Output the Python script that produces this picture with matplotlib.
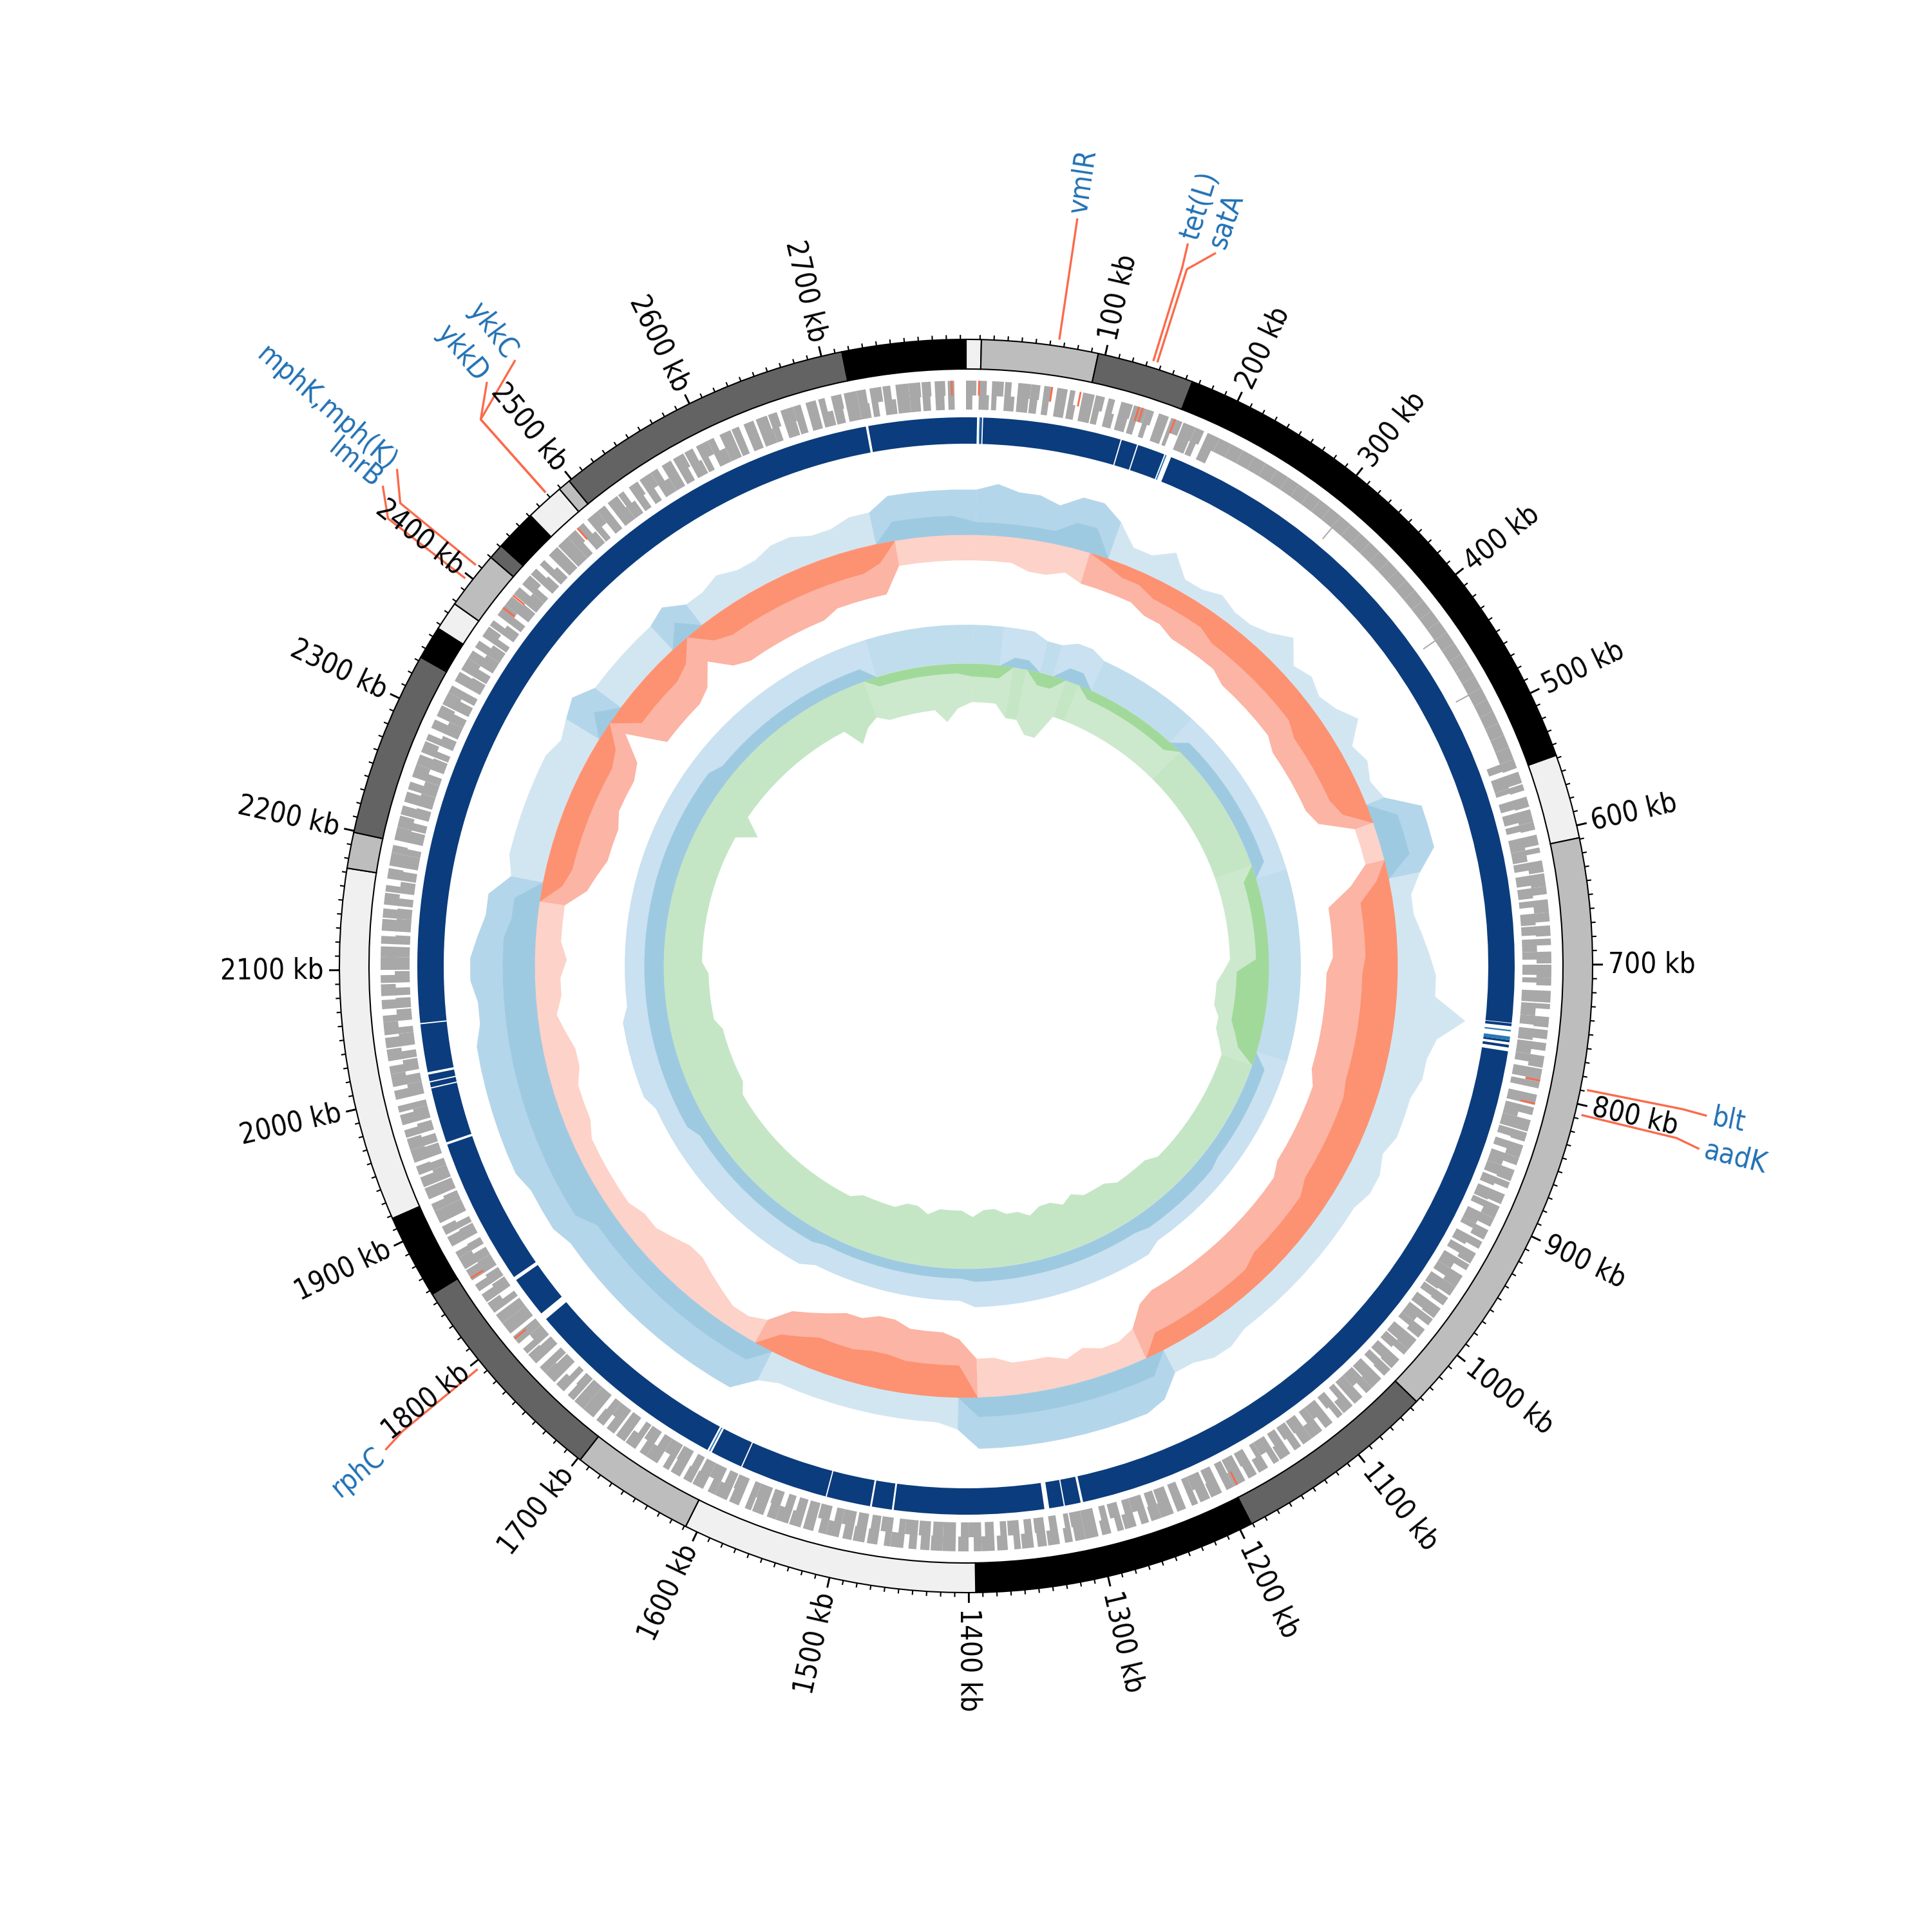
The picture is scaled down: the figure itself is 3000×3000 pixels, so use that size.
import numpy as np
import matplotlib
matplotlib.use("Agg")
import matplotlib.pyplot as plt
from matplotlib import font_manager

# ---------------- data ----------------
GENOME_KB = 2804
CONTIG_BOUNDS_KB = [0, 11, 95, 165, 548, 609, 1044, 1191, 1395, 1609, 1698, 1857,
                    1918, 2173, 2199, 2333, 2357, 2378, 2420, 2431, 2461, 2489, 2498,
                    2715, 2804]
CONTIG_COLORS = ["#f0f0f0", "#bdbdbd", "#636363", "#000000"]

WINDOW_KB = 20
# GC content deviation ring (x10 px): solid band (signed: + above mean, - below mean)
GC_BAND = [2, 2, 2, 2, 2, 4, 4, -1,
           -2, -2, -3, -3, -3, -3, -4, -4, -4, -4, -4, -4, -4, -5, -5, -5, -5, -5, -4,
           4, 4, 4, -2,
           -5, -5, -5, -5, -5.5, -5.5, -5.5, -5.5, -5.5, -5.5, -5.5, -5, -5, -5, -5, -5, -5,
           -4, -4, -4, -4, -4, -3, -3, -3, -3, -3, -3, -3,
           3, 3, 3, 3, 3, 3, 3, 3, 3, 3,
           -5, -5, -5, -5, -5.5, -5.5, -5, -5, -5, -4, -3,
           3, 3, 3, 3, 3, 3, 3, 3, 3, 3, 3,
           5, 5, 5, 5, 5, 5, 5, 5, 5, 5, 5, 5, 5, 5, 5, 4, 4,
           -3, -4, -4, -4, -4, -4, -4, -4, -3,
           3,
           -4, -4, -4, -4, -3,
           3,
           -3, -4, -4, -4, -4, -4, -4, -4, -4, -4, -3,
           3, 3, 3, 3]
GC_POS_PEAK = [7, 8, 7, 7, 6, 8, 8, 6,
               3, 3, 5, 2, 2, 3, 2, 2, 3, 5, 2, 3, 2, 3, 5, 2, 3, 2, 3,
               8, 8, 8, 5,
               3, 3, 4, 5, 6, 6, 11, 7, 6, 6, 5, 5, 5, 4, 5, 5, 4, 4, 4, 4, 4, 4, 4, 4, 4, 5, 5, 4, 4,
               7, 8, 8, 8, 8, 8, 8, 8, 8, 8,
               5, 4, 4, 4, 4, 4, 4, 4, 4, 4, 5,
               8, 8, 8, 8, 8, 8, 8, 8, 8, 8, 8,
               9, 9, 9, 10, 10, 10, 10, 10, 10, 10, 9, 9, 10, 10, 9, 8, 8,
               5, 6, 6, 6, 6, 6, 6, 5, 6,
               7,
               5, 5, 5, 5, 5,
               6,
               4, 4, 5, 4, 4, 5, 5, 4, 4, 5, 5,
               7, 7, 7, 7]
GC_NEG_PEAK = [4, 4, 4, 5, 5, 4, 5, 5,
               5, 5, 6, 6, 7, 7, 7, 7, 8, 8, 8, 8, 8, 9, 9, 9, 9, 9, 8,
               3, 3, 3, 6,
               10, 10, 10, 10, 11, 11, 11, 11, 11, 11, 11, 10, 10, 10, 10, 10, 10,
               9, 9, 9, 9, 9, 9, 9, 9, 9, 9, 9, 8,
               5, 4, 4, 5, 4, 5, 5, 5, 6, 6,
               9, 10, 10, 10, 11, 11, 10, 10, 9, 8, 7,
               4, 3, 3, 4, 5, 6, 6, 5, 4, 4, 3,
               3, 3, 3, 3, 4, 4, 4, 5, 5, 4, 3, 4, 4, 5, 4, 4, 4,
               7, 8, 9, 9, 9, 8, 8, 8, 7,
               3,
               9, 9, 9, 9, 8,
               5,
               8, 9, 9, 9, 9, 9, 9, 8, 8, 8, 8,
               4, 4, 4, 4]
# GC skew ring (x10 px): solid band (signed: + positive skew, - negative skew)
SK_BAND = [-2, -2, -2, 1.5, 1.5, -2, -2,
           2, 2,
           -1.5, -1.5, -1.5, -1.5, -1.5, -1.5, -1.5, -1.5,
           2, 2, 2, 2, 2, 2, 2, 2, 2, 2, 2,
           -2, -2, -2, -2, -2, -2, -2,
           -5, -5, -5, -5, -5, -4, -3,
           2, 2, 2, 2, 2, 2, 2, 2,
           2.5, 2.5, 2.5, 2.5, 2.5, 2.5, 2.5,
           2, 2, 2, 2, 2, 2, 2, 2, 2, 2, 2, 2, 2,
           1.5, 1.5, 1.5, 1.5, 1.5, 1.5, 1.5, 1.5, 1.5, 1.5, 1.5,
           2, 2, 2, 2, 2, 2, 2, 2, 2, 2, 2, 2,
           3, 3, 3, 3, 3, 3, 3, 3, 3, 3, 3, 3,
           3, 3, 3, 3, 3, 3, 3, 3, 3, 3, 3, 3, 3, 3, 3,
           2, 2, 2, 2, 2, 2, 2, 2, 2, 2, 2, 2, 2,
           -1.5, -1.5, -1.5, -1.5, -1.5, -1.5, -1.5]
SK_POS_PEAK = [6, 6, 6, 6, 6, 5, 5,
               6, 6,
               5, 5, 5, 5, 5, 5, 5, 5,
               5, 5, 5, 5, 5, 5, 5, 5, 5, 5, 5,
               5, 5, 5, 5, 5, 5, 5,
               5, 5, 5, 5, 5, 5, 5,
               5, 5, 5, 5, 5, 5, 5, 5,
               5, 5, 5, 5, 5, 5, 5,
               6, 6, 6, 6, 6, 6, 6, 6, 6, 6, 6, 6, 6,
               5, 5, 5, 5, 5, 5, 5, 5, 5, 5, 5,
               6, 6, 6, 6, 6, 6, 6, 6, 6, 6, 6, 6,
               6, 6, 6, 7, 7, 7, 7, 7, 7, 6, 6, 6,
               6, 6, 6, 6, 6, 6, 6, 6, 6, 6, 6, 6, 6, 6, 6,
               6, 6, 6, 6, 6, 6, 6, 6, 6, 6, 6, 6, 6,
               6, 6, 6, 6, 6, 6, 6]
SK_NEG_PEAK = [6, 6, 6, 8, 8, 10, 10,
               6, 6,
               6, 6, 6, 6, 6, 6, 6, 6,
               6, 6, 6, 6, 6, 6, 6, 6, 6, 6, 6,
               6, 6, 6, 6, 6, 6, 6,
               7, 8, 8, 8, 7, 7, 6,
               5, 5, 5, 5, 5, 5, 5, 5,
               5, 5, 5, 6, 6, 6, 6,
               7, 7, 7, 8, 7, 8, 8, 7, 8, 8, 9, 9, 8,
               9, 9, 9, 8, 9, 9, 8, 8, 8, 8, 7,
               7, 7, 7, 7, 7, 7, 7, 7, 7, 7, 7, 7,
               7, 8, 8, 8, 8, 8, 8, 7, 7, 7, 7, 7,
               6, 6, 6, 6, 6, 6, 6, 6, 6, 6, 6, 6, 9, 6, 6,
               6, 6, 6, 6, 6, 6, 6, 6, 6, 6, 9, 7, 6,
               7, 7, 7, 7, 7, 9, 7]

# gene coverage per 10 kb window (outer row / inner row); digit = tenths, 'a' = full
GENE_WINDOW_KB = 10
GENE_OUT = ("8695a76849" "759a689a7a" + "a" * 34 +
            "7958a6849a" "6a7859a694" "8769a58697" "a6958a7869" "5a87968a59" "7a68957a86"
            "9587a69857" "a86957a869" "7958a68a97" "6a5897a689" "a7958a6978" "5a69877a96"
            "8a6957a897" "69a587a698" "7a96857a69" "8a5796a869" "7958a6a978" "6a89579a68"
            "a7695a8796" "59a86a7958" "a6897a5968" "97a6858a79" "6a9785")
GENE_IN = ("5848965869" "5785483958" + "0000000000" "0100000000" "0001000010" "0000" +
           "6a4785a968" "8597a6849a" "79a6858a96" "6a8795a486" "a7968a5978" "69a857a698"
           "7a48968a57" "97a685a946" "86957a6a89" "a5978a6987" "68a597a869" "a7958a6a97"
           "5968a7a859" "8a7695a89a" "6978a5a796" "a59869a87a" "8697a5968a" "a6958a7869"
           "7a95869a58" "89a6957a86" "6a8795a968" "a596897a85" "9a8675")
GENE_RED_KB = [2793, 10, 66, 88, 134, 137, 163, 789, 807, 1187, 1795, 1852, 2397, 2409, 2480]

# alignment ring: gaps and thin stripes (kb)
BLUE_GAPS = [(2722, 2724), (9, 11), (13, 14), (127.5, 128.5), (141.5, 142.5), (165, 171),
             (747.3, 770.7), (1306, 1308), (1321, 1322), (1334, 1338), (1461, 1462.5),
             (1479, 1480.5), (1516.5, 1517.5), (1589.5, 1590.5), (1617, 1621), (1791, 1797),
             (1831, 1834), (1955, 1957), (2002.5, 2003.5), (2007.5, 2008.5), (2014, 2016),
             (2055.5, 2056.5)]
BLUE_DARK_STRIPES = [(747.8, 750.1), (761.5, 763.3), (765.4, 767.6)]
BLUE_LIGHT_STRIPES = [(11, 12), (166, 167), (753.2, 754.4), (758.6, 761.5), (1618.5, 1619.5)]

TICK_MINOR_KB = list(range(10, 2801, 10))
TICK_LABEL_KB = list(range(100, 2701, 100))

GENE_LABELS = ["vmlR", "tet(L)", "satA", "blt", "aadK", "rphC", "ykkC", "ykkD",
               "mphK,mph(K)", "lmrB"]
GENE_LABEL_KB = [66, 134, 137, 789, 807, 1795, 2480, 2480, 2409, 2397]

# ---------------- layout ----------------
LABEL_TEXT_KB = [66, 133, 150, 790, 810, 1793, 2518, 2497, 2423, 2410]
R_CONTIG = (927, 973)
R_GENE_OUT = (886, 909)
R_GENE_IN = (864, 887)
R_BLUE = (811, 852)
GC_BASE, GC_SCALE = 670, 10.0
SK_BASE, SK_SCALE = 470, 10.0

plt.rcParams["font.family"] = ["DejaVu Sans"]
# use the condensed DejaVu face when it is installed
_condensed = any("Condensed" in f.name or "condensed" == f.stretch
                 for f in font_manager.fontManager.ttflist if f.name.startswith("DejaVu Sans")
                 and "Mono" not in f.name)
TXT_KW = dict(fontstretch="condensed", fontsize=10.5) if _condensed else dict(fontsize=9.5)


def th(kb):
    return np.deg2rad(np.asarray(kb, dtype=float) / GENOME_KB * 360.0)


fig = plt.figure(figsize=(10, 10), dpi=300)
ax = fig.add_axes([0, 0, 1, 1], projection="polar")
ax.set_theta_zero_location("N")
ax.set_theta_direction(-1)
ax.set_ylim(0, 1500)
ax.axis("off")

# contig ring
for i in range(len(CONTIG_BOUNDS_KB) - 1):
    s, e = CONTIG_BOUNDS_KB[i], CONTIG_BOUNDS_KB[i + 1]
    ax.bar(th(s), R_CONTIG[1] - R_CONTIG[0], width=th(e) - th(s), bottom=R_CONTIG[0],
           align="edge", color=CONTIG_COLORS[i % 4], edgecolor="black", linewidth=0.5)

# ticks
for kb in TICK_MINOR_KB:
    major = kb in TICK_LABEL_KB
    ln = 16 if major else 7
    ax.plot([th(kb)] * 2, [R_CONTIG[1], R_CONTIG[1] + ln], color="black",
            lw=0.7 if major else 0.5, solid_capstyle="butt")
for kb in TICK_LABEL_KB:
    deg = kb / GENOME_KB * 360.0
    if deg < 180:
        rot, ha = 90 - deg, "left"
    else:
        rot, ha = 270 - deg, "right"
    ax.text(th(kb), 997, f"{kb} kb", rotation=rot, rotation_mode="anchor",
            ha=ha, va="center", color="black", **TXT_KW)


# gene ring
def cov(ch):
    return 1.0 if ch == "a" else int(ch) / 10.0


for vals, (r0, r1) in ((GENE_IN, R_GENE_IN), (GENE_OUT, R_GENE_OUT)):
    for i, ch in enumerate(vals):
        c = cov(ch)
        if c <= 0:
            continue
        w = GENE_WINDOW_KB * c
        s = i * GENE_WINDOW_KB
        ax.bar(th(s), r1 - r0, width=th(w), bottom=r0, align="edge",
               color="#a8a8a8", linewidth=0)
for kb in GENE_RED_KB:
    ax.bar(th(kb - 0.7), R_GENE_OUT[1] - R_GENE_OUT[0], width=th(1.4), bottom=R_GENE_OUT[0],
           align="edge", color="#fb6a4a", linewidth=0)

# alignment ring
edges = [0.0]
for s, e in sorted(BLUE_GAPS):
    edges += [s, e]
edges.append(GENOME_KB)
for i in range(0, len(edges), 2):
    s, e = edges[i], edges[i + 1]
    ax.bar(th(s), R_BLUE[1] - R_BLUE[0], width=th(e - s), bottom=R_BLUE[0], align="edge",
           color="#0b3c7d", linewidth=0)
for s, e in BLUE_DARK_STRIPES:
    ax.bar(th(s), R_BLUE[1] - R_BLUE[0], width=th(e - s), bottom=R_BLUE[0], align="edge",
           color="#0b3c7d", linewidth=0)
for s, e in BLUE_LIGHT_STRIPES:
    ax.bar(th(s), R_BLUE[1] - R_BLUE[0], width=th(e - s), bottom=R_BLUE[0], align="edge",
           color="#2a78b8", linewidth=0)

# GC content & skew rings
centers = np.arange(len(GC_BAND)) * WINDOW_KB + WINDOW_KB / 2
tt = th(np.append(centers, centers[0] + GENOME_KB))


def closed(a):
    a = np.asarray(a, dtype=float)
    return np.append(a, a[0])


def runs(mask):
    out, start = [], None
    for j, m in enumerate(mask):
        if m and start is None:
            start = j
        if not m and start is not None:
            out.append((start, j - 1))
            start = None
    if start is not None:
        out.append((start, len(mask) - 1))
    return out


def halo(r_outer, base, seg_mask, color, alpha):
    for a, b in runs(seg_mask):
        idx = np.arange(a, b + 2)
        th_poly = np.concatenate([tt[idx], tt[idx][::-1]])
        r_poly = np.concatenate([r_outer[idx], np.full(len(idx), base)])
        ax.fill(th_poly, r_poly, color=color, alpha=alpha, lw=0)


def ring(band, pos_peak, neg_peak, base, scale, fill_pos, line_pos, fill_neg, line_neg,
         a_dom, a_minor):
    b = closed(band) * scale
    pp = base + closed(pos_peak) * scale
    nn = base - closed(neg_peak) * scale
    pos_dom = (b[:-1] > 0) | (b[1:] > 0)
    neg_dom = (b[:-1] < 0) | (b[1:] < 0)
    halo(pp, base, pos_dom, line_pos, a_dom)
    halo(pp, base, ~pos_dom, line_pos, a_minor)
    halo(nn, base, neg_dom, line_neg, a_dom)
    halo(nn, base, ~neg_dom, line_neg, a_minor)
    bp = np.where(b > 0, b, 0)
    bn = np.where(b < 0, b, 0)
    ax.fill_between(tt, base, base + bp, color=fill_pos, lw=0)
    ax.fill_between(tt, base + bn, base, color=fill_neg, lw=0)


ring(GC_BAND, GC_POS_PEAK, GC_NEG_PEAK, GC_BASE, GC_SCALE,
     "#9ecae1", "#6baed6", "#fc9272", "#fb6a4a", 0.5, 0.3)
ring(SK_BAND, SK_POS_PEAK, SK_NEG_PEAK, SK_BASE, SK_SCALE,
     "#9ecae1", "#6baed6", "#a1d99b", "#74c476", 0.36, 0.42)

# gene labels
for name, gkb, tkb in zip(GENE_LABELS, GENE_LABEL_KB, LABEL_TEXT_KB):
    ax.plot([th(gkb), th(gkb), th(tkb)], [985, 1135, 1172], color="#fb6a4a", lw=0.8)
    deg = tkb / GENOME_KB * 360.0
    if deg < 180:
        rot, ha = 90 - deg, "left"
    else:
        rot, ha = 270 - deg, "right"
    ax.text(th(tkb), 1182, name, rotation=rot, rotation_mode="anchor", ha=ha,
            va="center", color="#2171b5", **TXT_KW)

fig.savefig("out.png", dpi=300)
